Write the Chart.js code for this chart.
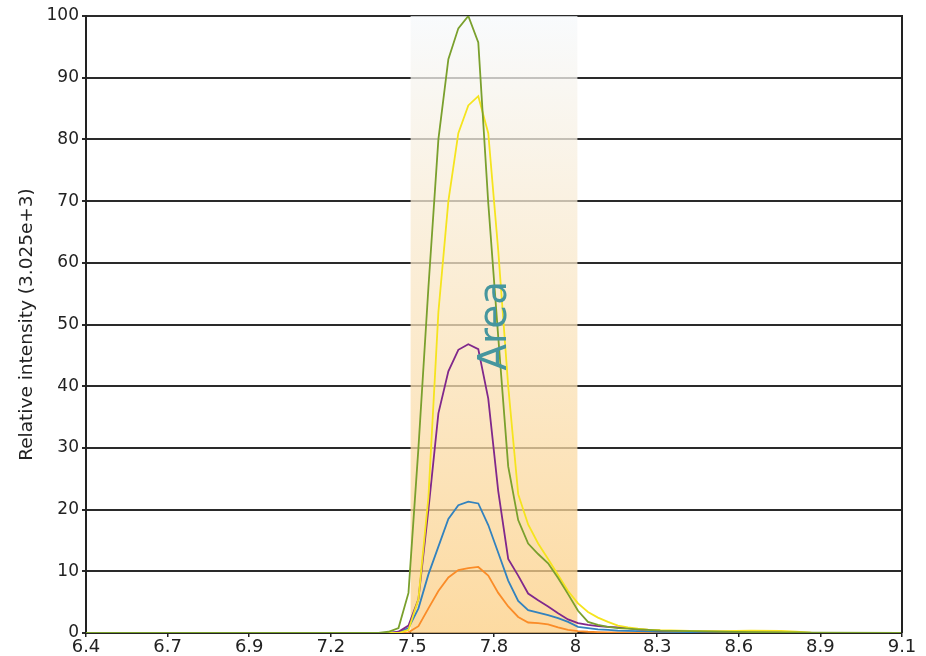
<!DOCTYPE html>
<html>
<head>
<meta charset="utf-8">
<script src="https://cdn.jsdelivr.net/npm/chart.js@4"></script>
<style>
html,body{margin:0;padding:0;background:#fff;}
#wrap{width:926px;height:656px;}
</style>
</head>
<body>
<div id="wrap"><canvas id="c" width="926" height="656"></canvas></div>
<script>
// ---- data ----
const retentionTimes = [6.4, 7.368, 7.401, 7.434, 7.467, 7.500, 7.533, 7.566, 7.599, 7.632, 7.665, 7.698, 7.731, 7.764, 7.797, 7.830, 7.863, 7.896, 7.929, 7.962, 7.995, 8.028, 8.061, 8.094, 8.127, 8.160, 8.193, 8.226, 8.26, 8.30, 8.40, 8.50, 8.60, 8.70, 8.75, 8.80, 9.1];
const seriesGreen  = [0, 0, 0.2, 0.8, 6.5, 30, 56, 80, 93, 98, 100, 95.7, 69.7, 48, 27, 18.3, 14.5, 12.8, 11.3, 8.9, 6.3, 3.6, 1.8, 1.3, 1.0, 0.8, 0.7, 0.6, 0.5, 0.4, 0.3, 0.2, 0.15, 0.1, 0.08, 0.05, 0];
const seriesYellow = [0, 0, 0, 0, 0.5, 5.5, 22, 52, 70, 81, 85.5, 87, 81, 62, 40, 22.5, 17.6, 14.5, 12, 9.4, 6.8, 4.8, 3.4, 2.5, 1.8, 1.2, 0.9, 0.7, 0.55, 0.45, 0.35, 0.3, 0.4, 0.35, 0.2, 0.05, 0];
const seriesPurple = [0, 0, 0, 0.2, 1.2, 5.5, 20, 35.6, 42.4, 45.9, 46.8, 46, 38, 23, 12, 9.3, 6.4, 5.3, 4.3, 3.2, 2.2, 1.6, 1.3, 1.1, 1.0, 0.9, 0.8, 0.6, 0.5, 0.4, 0.3, 0.2, 0.15, 0.1, 0.05, 0, 0];
const seriesBlue   = [0, 0, 0, 0.1, 0.8, 4, 9.5, 14, 18.5, 20.7, 21.3, 21.0, 17.5, 13, 8.5, 5.2, 3.7, 3.3, 2.9, 2.4, 1.8, 1.0, 0.8, 0.6, 0.5, 0.4, 0.35, 0.3, 0.25, 0.2, 0.15, 0.1, 0.1, 0.05, 0.03, 0, 0];
const seriesOrange = [0, 0, 0, 0, 0.1, 1.1, 4, 6.8, 9, 10.2, 10.5, 10.7, 9.3, 6.5, 4.3, 2.6, 1.7, 1.6, 1.4, 0.9, 0.5, 0.3, 0.2, 0.15, 0.1, 0.1, 0.08, 0.05, 0.05, 0.03, 0.02, 0, 0, 0, 0, 0, 0];
const xTickLabels = ['6.4', '6.7', '6.9', '7.2', '7.5', '7.8', '8', '8.3', '8.6', '8.9', '9.1'];
const yTickLabels = ['0', '10', '20', '30', '40', '50', '60', '70', '80', '90', '100'];
const areaRange = [7.474, 8.026];
const areaLabel = 'Area';
const yTitle = 'Relative intensity (3.025e+3)';
const xMin = 6.4, xMax = 9.1;

function pts(arr){ return retentionTimes.map((x,i)=>({x:x, y:arr[i]})); }

const FONT = '"DejaVu Sans", Verdana, sans-serif';

const bandPlugin = {
  id: 'band',
  beforeDatasetsDraw(chart){
    const {ctx, scales} = chart;
    const x0 = scales.x.getPixelForValue(areaRange[0]);
    const x1 = scales.x.getPixelForValue(areaRange[1]);
    const top = scales.y.getPixelForValue(100);
    const bot = scales.y.getPixelForValue(0);
    const g = ctx.createLinearGradient(0, top, 0, bot);
    g.addColorStop(0, 'rgba(246,249,252,0.75)');
    g.addColorStop(0.5, 'rgba(250,228,190,0.75)');
    g.addColorStop(1, 'rgba(252,206,130,0.75)');
    ctx.save();
    ctx.fillStyle = g;
    ctx.fillRect(x0, top, x1 - x0, bot - top);
    ctx.restore();
  },
  afterDatasetsDraw(chart){
    const {ctx, chartArea, scales} = chart;
    ctx.save();
    ctx.strokeStyle = '#222';
    ctx.lineWidth = 2;
    ctx.beginPath();
    ctx.moveTo(chartArea.right, chartArea.top - 1);
    ctx.lineTo(chartArea.right, chartArea.bottom);
    ctx.stroke();
    const cx = scales.x.getPixelForValue((areaRange[0] + areaRange[1]) / 2);
    const cy = scales.y.getPixelForValue(49.8);
    ctx.translate(cx + 2, cy);
    ctx.rotate(-Math.PI / 2);
    ctx.fillStyle = 'rgb(70,150,158)';
    ctx.font = '39px ' + FONT;
    ctx.textAlign = 'center';
    ctx.textBaseline = 'middle';
    ctx.fillText(areaLabel, 0, 0);
    ctx.restore();
  }
};

const ds = (label, arr, color) => ({
  label, data: pts(arr), borderColor: color, backgroundColor: color,
  borderWidth: 1.8, pointRadius: 0, tension: 0, fill: false
});

new Chart(document.getElementById('c'), {
  type: 'line',
  data: {
    datasets: [
      ds('green', seriesGreen, 'rgb(122,160,45)'),
      ds('yellow', seriesYellow, 'rgb(245,228,30)'),
      ds('purple', seriesPurple, 'rgb(128,40,140)'),
      ds('blue', seriesBlue, 'rgb(50,130,190)'),
      ds('orange', seriesOrange, 'rgb(250,140,40)')
    ]
  },
  options: {
    responsive: false,
    animation: false,
    devicePixelRatio: 1,
    layout: { padding: { top: 16, right: 24, left: 0, bottom: 0 } },
    plugins: { legend: { display: false }, tooltip: { enabled: false } },
    scales: {
      x: {
        type: 'linear', min: xMin, max: xMax,
        afterBuildTicks(scale){
          scale.ticks = xTickLabels.map((l,i)=>({value: xMin + i*(xMax - xMin)/(xTickLabels.length - 1)}));
        },
        afterFit(scale){ scale.height = 23; },
        ticks: {
          callback: (v, i) => xTickLabels[i],
          color: '#222', font: { family: FONT, size: 18 }, padding: 0, maxRotation: 0, autoSkip: false
        },
        grid: { drawOnChartArea: false, drawTicks: true, tickLength: 4, color: '#222', lineWidth: 1.5 },
        border: { display: true, color: '#222', width: 2 }
      },
      y: {
        min: 0, max: 100,
        afterBuildTicks(scale){
          scale.ticks = yTickLabels.map((l,i)=>({value: i*10}));
        },
        afterFit(scale){ scale.width = 86; },
        ticks: {
          callback: (v, i) => yTickLabels[i],
          color: '#222', font: { family: FONT, size: 17 }, padding: 3
        },
        grid: { drawOnChartArea: true, drawTicks: true, tickLength: 4, color: '#2a2a2a', lineWidth: 2 },
        border: { display: true, color: '#222', width: 2 },
        title: { display: true, text: yTitle, color: '#222', font: { family: FONT, size: 18.5 }, padding: { top: 16, bottom: 0 } }
      }
    }
  },
  plugins: [bandPlugin]
});
</script>
</body>
</html>
